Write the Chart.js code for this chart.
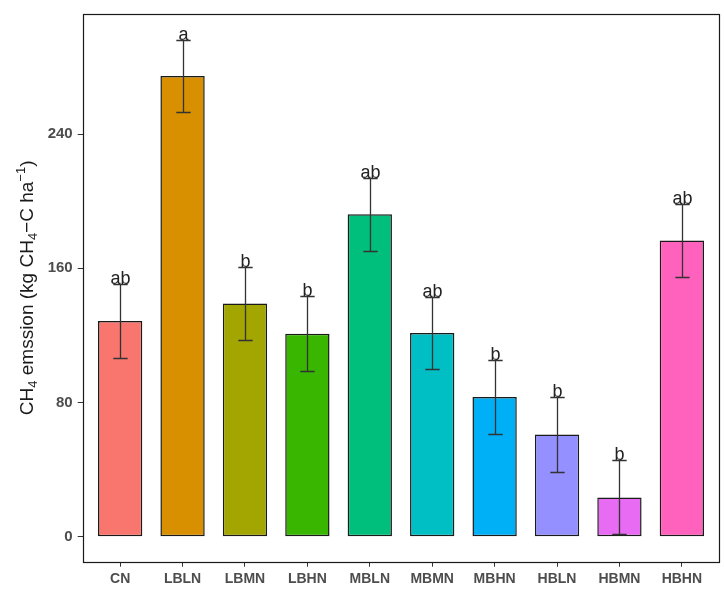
<!DOCTYPE html>
<html>
<head>
    <title>CH4 emission</title>
    <script src="https://cdn.jsdelivr.net/npm/chart.js"></script>
    <style>
        body { margin: 0; background: #fff; }
        canvas { display: block; }
    </style>
</head>
<body>
    <canvas id="ch4Chart" width="724" height="597"></canvas>
    <script>
        // values
        var categories = ['CN', 'LBLN', 'LBMN', 'LBHN', 'MBLN', 'MBMN', 'MBHN', 'HBLN', 'HBMN', 'HBHN'];
        var means = [128.6, 274.6, 139.0, 121.0, 192.2, 121.4, 83.3, 61.0, 23.5, 176.6];
        var errors = [21.9, 21.7, 22.0, 22.2, 21.7, 21.6, 22.0, 22.4, 22.0, 21.9];
        var letters = ['ab', 'a', 'b', 'b', 'ab', 'ab', 'b', 'b', 'b', 'ab'];
        var colors = ['#F8766D', '#D89000', '#A3A500', '#39B600', '#00BF7D', '#00BFC4', '#00B0F6', '#9590FF', '#E76BF3', '#FF62BC'];
        var yTicks = [0, 80, 160, 240];

        var ctx = document.getElementById('ch4Chart').getContext('2d');

        var errorBars = {
            id: 'errorBars',
            afterDatasetsDraw: function(chart) {
                var c = chart.ctx;
                var xs = chart.scales.x, ys = chart.scales.y;
                var half = (xs.getPixelForValue(1.115) - xs.getPixelForValue(1));
                c.save();
                c.strokeStyle = '#333';
                c.lineWidth = 1.3;
                c.font = '18px "Liberation Sans", Arial, sans-serif';
                c.fillStyle = '#222';
                c.textAlign = 'center';
                c.textBaseline = 'alphabetic';
                means.forEach(function(m, i) {
                    var x = Math.round(xs.getPixelForValue(i + 1)) + 0.5;
                    var yTop = Math.round(ys.getPixelForValue(m + errors[i])) + 0.5;
                    var yBot = Math.round(ys.getPixelForValue(m - errors[i])) + 0.5;
                    c.beginPath();
                    c.moveTo(x, yTop); c.lineTo(x, yBot);
                    c.moveTo(x - half, yTop); c.lineTo(x + half, yTop);
                    c.moveTo(x - half, yBot); c.lineTo(x + half, yBot);
                    c.stroke();
                    c.fillText(letters[i], x, yTop - 1);
                });
                c.restore();
            }
        };

        var frameAndTitle = {
            id: 'frameAndTitle',
            afterDraw: function(chart) {
                var c = chart.ctx, a = chart.chartArea;
                c.save();
                c.strokeStyle = '#1a1a1a';
                c.lineWidth = 1.2;
                c.strokeRect(Math.round(a.left) + 0.5, Math.round(a.top) + 0.5,
                    Math.round(a.right - a.left) - 1, Math.round(a.bottom - a.top));

                // y title with sub/superscripts
                var parts = [
                    ['CH', 0], ['4', -1], [' emssion (kg CH', 0], ['4', -1],
                    ['\u2212C ha', 0], ['\u22121', 1], [')', 0]
                ];
                var big = '19px "Liberation Sans", Arial, sans-serif';
                var small = '13px "Liberation Sans", Arial, sans-serif';
                var total = 0;
                parts.forEach(function(p) {
                    c.font = p[1] === 0 ? big : small;
                    total += c.measureText(p[0]).width;
                });
                c.translate(33, (a.top + a.bottom) / 2);
                c.rotate(-Math.PI / 2);
                c.fillStyle = '#1a1a1a';
                c.textBaseline = 'alphabetic';
                c.textAlign = 'left';
                var x = -total / 2;
                parts.forEach(function(p) {
                    c.font = p[1] === 0 ? big : small;
                    var dy = p[1] === -1 ? 4 : (p[1] === 1 ? -8 : 0);
                    c.fillText(p[0], x, dy);
                    x += c.measureText(p[0]).width;
                });
                c.restore();
            }
        };

        var chart = new Chart(ctx, {
            type: 'bar',
            data: {
                datasets: [{
                    data: categories.map(function(c, i) { return { x: i + 1, y: means[i] }; }),
                    backgroundColor: colors,
                    borderColor: '#1a1a1a',
                    borderWidth: 1.5,
                    borderSkipped: false,
                    barPercentage: 0.71,
                    categoryPercentage: 1
                }]
            },
            options: {
                responsive: false,
                animation: false,
                layout: { padding: { left: 0, top: 11, right: 4.7, bottom: 0 } },
                plugins: {
                    legend: { display: false },
                    tooltip: { enabled: false }
                },
                scales: {
                    x: {
                        type: 'linear',
                        offset: false,
                        min: 0.4,
                        max: 10.6,
                        afterBuildTicks: function(s) {
                            s.ticks = categories.map(function(c, i) { return { value: i + 1 }; });
                        },
                        afterFit: function(s) { s.height = 35.3; },
                        grid: { offset: false, drawOnChartArea: false, drawTicks: true, tickLength: 5, color: '#333' },
                        border: { display: false },
                        ticks: {
                            autoSkip: false,
                            maxRotation: 0,
                            padding: 4,
                            color: '#4d4d4d',
                            font: { size: 14, weight: 'bold', family: '"Liberation Sans", Arial, sans-serif' },
                            callback: function(v) { return categories[v - 1]; }
                        }
                    },
                    y: {
                        min: -14.8,
                        max: 311.5,
                        afterBuildTicks: function(s) {
                            s.ticks = yTicks.map(function(v) { return { value: v }; });
                        },
                        afterFit: function(s) { s.width = 82.7; },
                        grid: { drawOnChartArea: false, drawTicks: true, tickLength: 5, color: '#333' },
                        border: { display: false },
                        ticks: {
                            padding: 5,
                            color: '#4d4d4d',
                            font: { size: 15, weight: 'bold', family: '"Liberation Sans", Arial, sans-serif' }
                        }
                    }
                }
            },
            plugins: [errorBars, frameAndTitle]
        });
    </script>
</body>
</html>
